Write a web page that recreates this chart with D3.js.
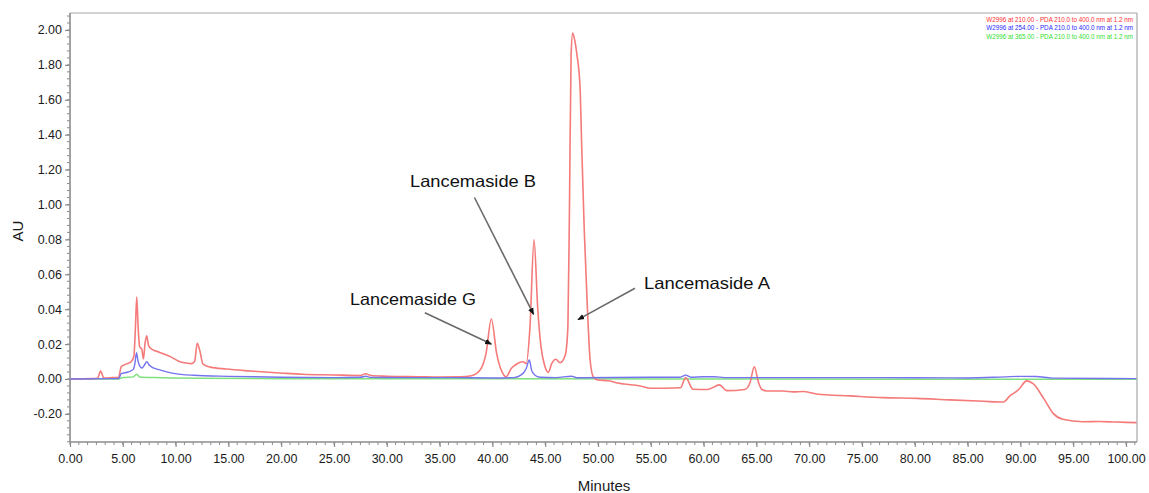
<!DOCTYPE html>
<html><head><meta charset="utf-8">
<script src="https://cdn.jsdelivr.net/npm/d3@7"></script>
<style>
body{margin:0;background:#fff;}
svg text{font-family:"Liberation Sans",Arial,sans-serif;}
</style></head>
<body><svg id="c" width="1149" height="493"></svg>
<script>
// ---- data ----
const yTickValues = [-0.2,0,0.2,0.4,0.6,0.8,1.0,1.2,1.4,1.6,1.8,2.0];
const yTickLabels = ["-0.20","0.00","0.02","0.04","0.06","0.08","1.00","1.20","1.40","1.60","1.80","2.00"];
const xTickValues = [0,5,10,15,20,25,30,35,40,45,50,55,60,65,70,75,80,85,90,95,100];
const xTickLabels = ["0.00","5.00","10.00","15.00","20.00","25.00","30.00","35.00","40.00","45.00","50.00","55.00","60.00","65.00","70.00","75.00","80.00","85.00","90.00","95.00","100.00"];
const legendLabels = [
 "W2996  at 210.00 - PDA 210.0 to 400.0 nm at 1.2 nm",
 "W2996  at 254.00 - PDA 210.0 to 400.0 nm at 1.2 nm",
 "W2996  at 365.00 - PDA 210.0 to 400.0 nm at 1.2 nm"];
// [minutes, AU]
const trace210 = [[0,0],[1,0.001],[2,0.002],[2.6,0.004],[2.9,0.045],[3.2,0.006],[4,0.008],[4.6,0.01],[4.85,0.07],[5.3,0.085],[5.8,0.1],[6.05,0.13],[6.2,0.3],[6.32,0.47],[6.45,0.3],[6.6,0.185],[6.8,0.17],[6.95,0.115],[7.1,0.2],[7.26,0.248],[7.45,0.19],[7.9,0.165],[8.4,0.155],[9.0,0.14],[9.5,0.128],[10.2,0.105],[10.7,0.094],[11.5,0.088],[11.8,0.1],[12.05,0.205],[12.3,0.16],[12.6,0.085],[13.3,0.068],[14.8,0.057],[17,0.046],[20.2,0.033],[22,0.027],[25,0.023],[27.5,0.02],[28,0.03],[28.5,0.02],[30,0.016],[33,0.013],[35,0.011],[37,0.012],[38,0.018],[38.8,0.048],[39.4,0.147],[39.9,0.344],[40.4,0.147],[40.9,0.042],[41.3,0.013],[41.8,0.061],[42.3,0.086],[42.9,0.099],[43.2,0.088],[43.56,0.3],[43.94,0.797],[44.3,0.395],[44.6,0.185],[44.98,0.07],[45.3,0.038],[45.6,0.086],[46.0,0.113],[46.4,0.093],[46.9,0.138],[47.15,0.3],[47.3,1.0],[47.45,1.85],[47.6,1.983],[47.8,1.94],[48.0,1.86],[48.3,1.67],[48.45,1.35],[48.7,0.85],[49.0,0.4],[49.25,0.11],[49.55,0.013],[50,-0.006],[51,-0.01],[52,-0.025],[54,-0.04],[55,-0.053],[57.8,-0.05],[58.3,0.008],[59,-0.059],[60.4,-0.06],[61.5,-0.034],[62.2,-0.067],[63.9,-0.06],[64.4,-0.02],[64.8,0.07],[65.2,-0.02],[65.5,-0.059],[66,-0.069],[67.5,-0.069],[68.5,-0.074],[69.4,-0.072],[70.7,-0.086],[73.9,-0.097],[77,-0.107],[80.2,-0.111],[83.3,-0.12],[86.5,-0.128],[88.4,-0.132],[89,-0.097],[89.8,-0.063],[90.6,-0.011],[91.2,-0.027],[92.2,-0.111],[93.1,-0.197],[94,-0.231],[95.9,-0.245],[97.5,-0.244],[99,-0.247],[101,-0.25]];
const trace254 = [[0,0],[4.6,0.002],[4.85,0.03],[5.5,0.04],[6.0,0.055],[6.15,0.09],[6.3,0.151],[6.45,0.1],[6.8,0.063],[7.05,0.08],[7.26,0.099],[7.5,0.08],[7.9,0.063],[8.5,0.052],[9.8,0.032],[11.7,0.021],[15,0.015],[20,0.01],[25,0.008],[27.5,0.01],[28,0.016],[28.5,0.009],[32,0.008],[36,0.008],[40,0.006],[42,0.008],[42.9,0.032],[43.2,0.06],[43.5,0.109],[43.7,0.052],[44,0.023],[44.5,0.01],[46,0.008],[47.5,0.016],[48,0.007],[55,0.01],[57.8,0.01],[58.3,0.022],[58.8,0.01],[60,0.013],[61,0.013],[62,0.008],[75,0.008],[85,0.006],[88.5,0.012],[90,0.015],[91.5,0.014],[93,0.005],[101,0.002]];
const trace365 = [[0,0],[4.6,0],[5,0.008],[6,0.012],[6.3,0.027],[6.6,0.012],[8,0.008],[12,0.004],[20,0.002],[40,0.001],[60,0.0],[101,-0.002]];
const annotations = [
 {text:"Lancemaside B", at:[43.9,0.37], from:[38.3,1.04]},
 {text:"Lancemaside G", at:[39.9,0.2], from:[33.6,0.38]},
 {text:"Lancemaside A", at:[48.1,0.34], from:[53.5,0.52]}];

// ---- layout ----
const svg = d3.select("#c");
const L=70, R=1137, T=13, B=442;
const x = d3.scaleLinear().domain([0,101.04]).range([L,R]);
const y = d3.scaleLinear().domain([-0.3612,2.0974]).range([B,T]);
const axisCol="#8c8c8c";

// frame top/right
svg.append("line").attr("x1",L).attr("x2",R).attr("y1",T).attr("y2",T).attr("stroke","#a8a8a8").attr("stroke-width",1.2);
svg.append("line").attr("x1",R).attr("x2",R).attr("y1",T).attr("y2",B).attr("stroke","#a8a8a8").attr("stroke-width",1.2);

// minor ticks
const yMinor = d3.range(-0.36,2.1,0.04).filter(v=>v>=-0.3612 && v<=2.0974);
svg.append("g").selectAll("line").data(yMinor).join("line")
  .attr("x1",L-3).attr("x2",L).attr("y1",d=>y(d)).attr("y2",d=>y(d)).attr("stroke",axisCol).attr("stroke-width",1);
const xMinor = d3.range(0,101.04,5/6);
svg.append("g").selectAll("line").data(xMinor).join("line")
  .attr("y1",B).attr("y2",B+3).attr("x1",d=>x(d)).attr("x2",d=>x(d)).attr("stroke",axisCol).attr("stroke-width",1);

// axes
const yAxis = d3.axisLeft(y).tickValues(yTickValues).tickSize(5).tickPadding(3)
  .tickFormat((d,i)=>yTickLabels[i]);
const gy = svg.append("g").attr("transform",`translate(${L},0)`).call(yAxis);
const xAxis = d3.axisBottom(x).tickValues(xTickValues).tickSize(5).tickPadding(7)
  .tickFormat((d,i)=>xTickLabels[i]);
const gx = svg.append("g").attr("transform",`translate(0,${B})`).call(xAxis);
[gx,gy].forEach(g=>{
  g.select(".domain").attr("stroke",axisCol).attr("stroke-width",1.6);
  g.selectAll(".tick line").attr("stroke",axisCol).attr("stroke-width",1.2);
  g.selectAll("text").attr("fill","#1a1a1a").style("font-size","12.5px").style("font-family","'Liberation Sans',Arial,sans-serif");
});
gx.select(".domain").attr("d",`M${L},0H${R}`);
gy.select(".domain").attr("d",`M0,${T}V${B}`);

// axis titles
svg.append("text").attr("transform",`translate(23,231) rotate(-90)`).attr("text-anchor","middle")
  .style("font-size","15px").attr("fill","#1a1a1a").text("AU");
svg.append("text").attr("x",604).attr("y",491).attr("text-anchor","middle")
  .style("font-size","15px").attr("fill","#1a1a1a").text("Minutes");

// traces
const line = d3.line().x(d=>x(d[0])).y(d=>y(d[1])).curve(d3.curveMonotoneX);
const clip = svg.append("clipPath").attr("id","pc").append("rect").attr("x",L).attr("y",T).attr("width",R-L).attr("height",B-T);
const gp = svg.append("g").attr("clip-path","url(#pc)");
gp.append("path").datum(trace365).attr("d",line).attr("fill","none").attr("stroke","#7fe07f").attr("stroke-width",1.5);
gp.append("path").datum(trace210).attr("d",line).attr("fill","none").attr("stroke","#f57a7a").attr("stroke-width",1.6);
gp.append("path").datum(trace254).attr("d",line).attr("fill","none").attr("stroke","#7474ee").attr("stroke-width",1.4);

// legend
const legCols=["#ff3030","#2a2aff","#30e030"];
svg.append("g").selectAll("text").data(legendLabels).join("text")
  .attr("x",1133).attr("y",(d,i)=>21.5+i*8.8).attr("text-anchor","end")
  .style("font-size","6.3px").attr("fill",(d,i)=>legCols[i]).text(d=>d);

// annotations
const defs = svg.append("defs");
defs.append("marker").attr("id","ah").attr("viewBox","0 0 10 10").attr("refX",9).attr("refY",5)
  .attr("markerWidth",7).attr("markerHeight",7).attr("markerUnits","userSpaceOnUse").attr("orient","auto")
  .append("path").attr("d","M0,1L10,5L0,9z").attr("fill","#111");
svg.append("g").selectAll("line").data(annotations).join("line")
  .attr("x1",d=>x(d.from[0])).attr("y1",d=>y(d.from[1])).attr("x2",d=>x(d.at[0])).attr("y2",d=>y(d.at[1]))
  .attr("stroke","#6a6a6a").attr("stroke-width",1.6).attr("marker-end","url(#ah)");
const labelPos = [[410,187],[350,305],[644,289]];
svg.append("g").selectAll("text").data(annotations).join("text")
  .attr("x",(d,i)=>labelPos[i][0]).attr("y",(d,i)=>labelPos[i][1])
  .attr("textLength",126).attr("lengthAdjust","spacingAndGlyphs")
  .style("font-size","16.5px").attr("fill","#111").text(d=>d.text);
</script></body></html>
